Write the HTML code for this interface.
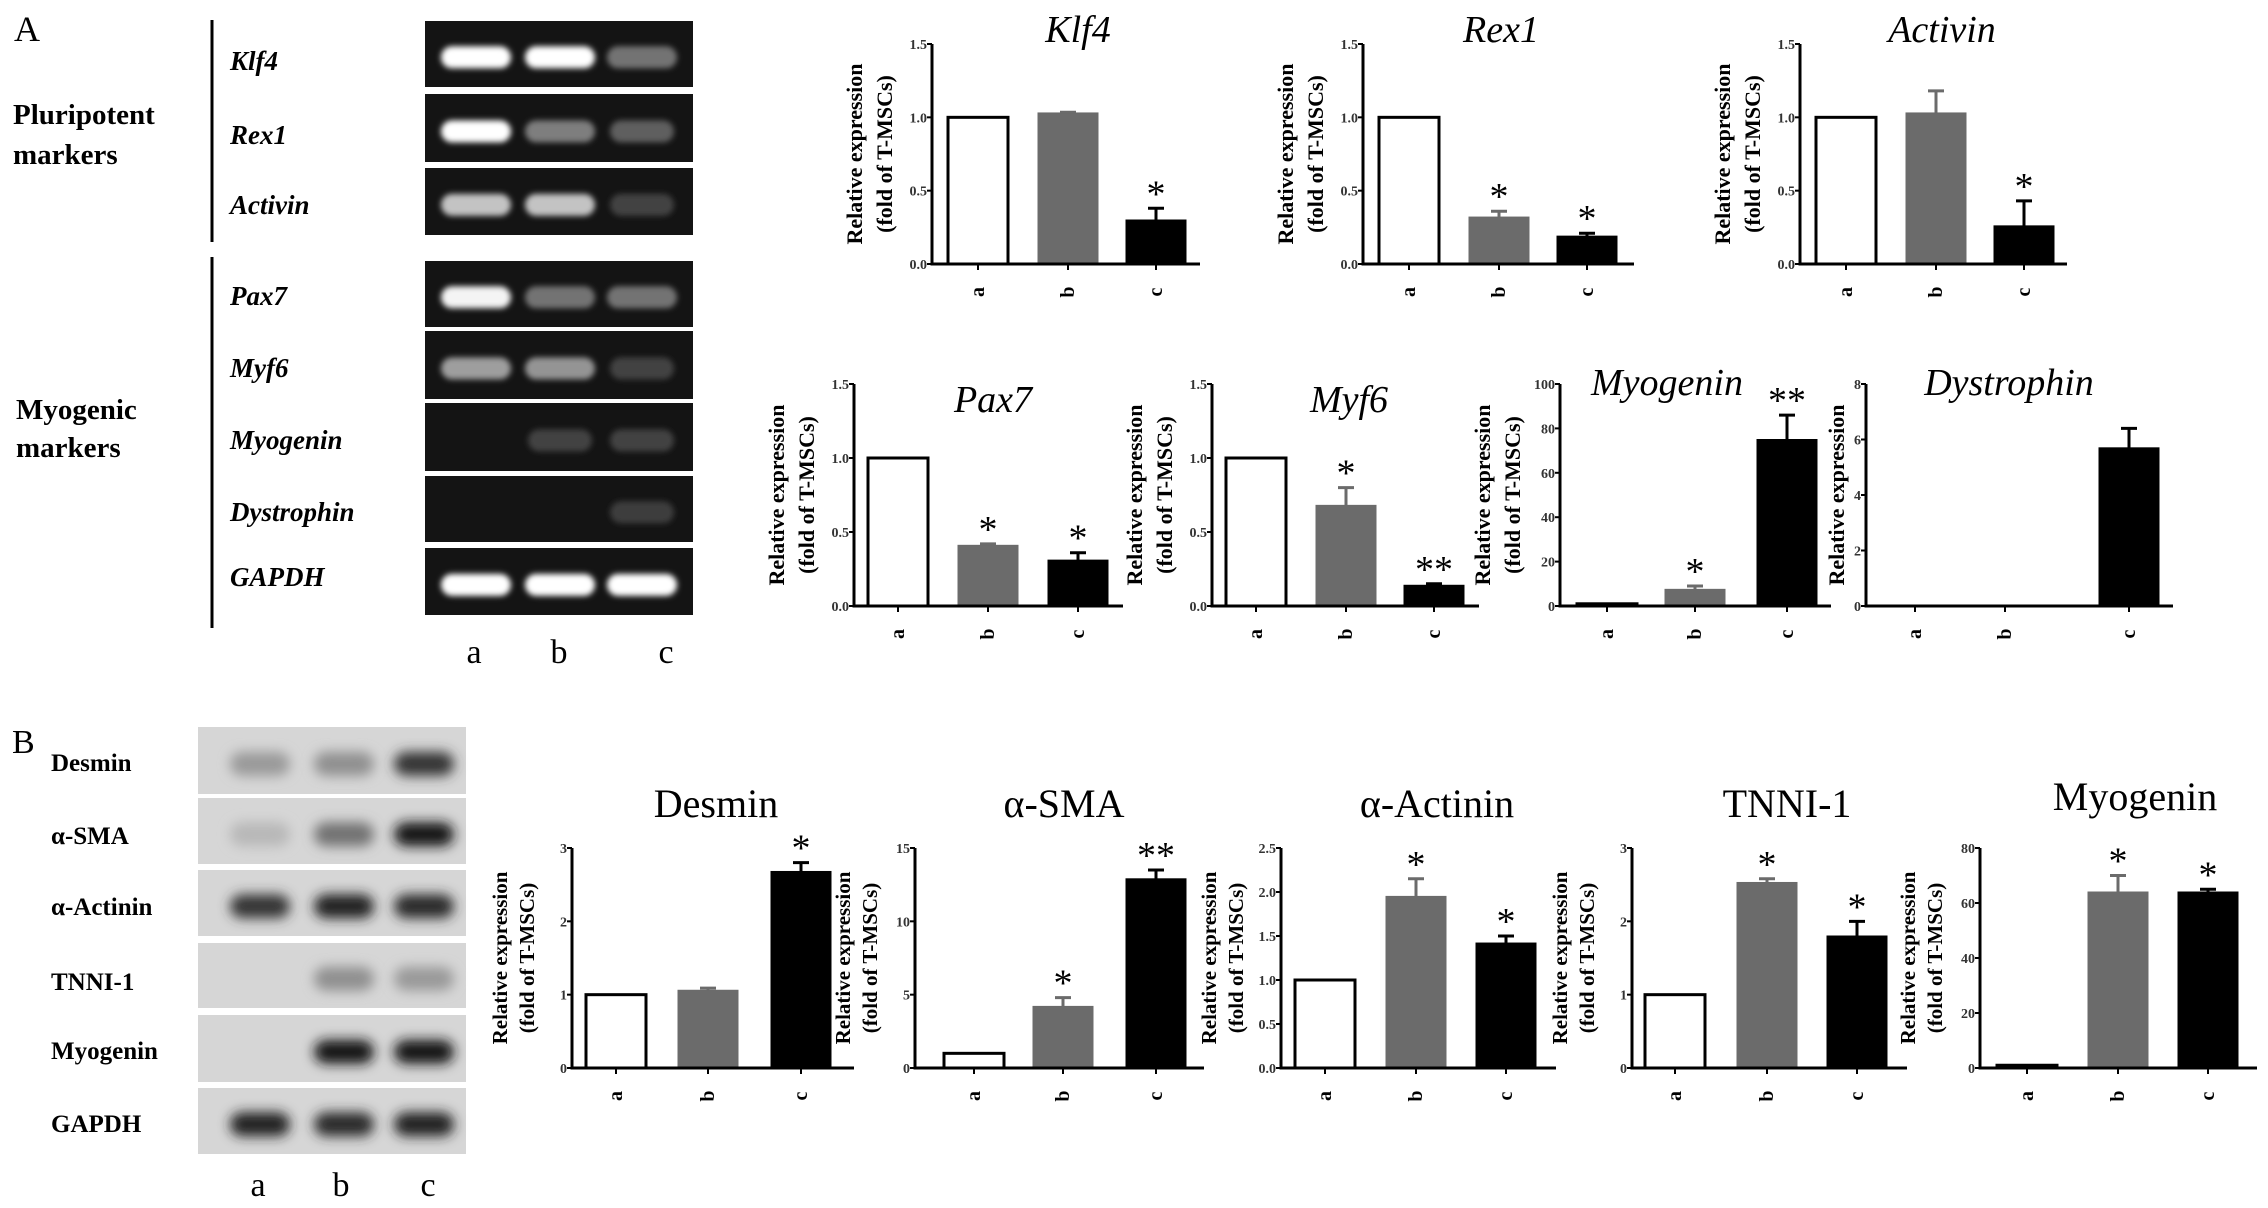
<!DOCTYPE html>
<html><head><meta charset="utf-8"><style>
html,body{margin:0;padding:0;background:#fff}
svg{display:block}
text{font-family:"Liberation Serif",serif}
</style></head><body>
<svg id="fig" xmlns="http://www.w3.org/2000/svg" width="2268" height="1208" viewBox="0 0 2268 1208">
<defs>
<filter id="blurA" x="-50%" y="-100%" width="200%" height="300%"><feGaussianBlur stdDeviation="3"/></filter>
<filter id="blurB" x="-50%" y="-100%" width="200%" height="300%"><feGaussianBlur stdDeviation="6"/></filter>
</defs>
<g id="panelA">
<text x="14" y="41" font-size="36">A</text>
<line x1="212" y1="20" x2="212" y2="242" stroke="#000" stroke-width="3"/>
<line x1="212" y1="257" x2="212" y2="628" stroke="#000" stroke-width="3"/>
<text x="13" y="124" font-size="29" font-weight="bold">Pluripotent</text>
<text x="13" y="164" font-size="29" font-weight="bold">markers</text>
<text x="16" y="419" font-size="29" font-weight="bold">Myogenic</text>
<text x="16" y="457" font-size="29" font-weight="bold">markers</text>
<g id="gelA"></g>
<text x="474" y="663" font-size="34" text-anchor="middle">a</text>
<text x="559" y="663" font-size="34" text-anchor="middle">b</text>
<text x="666" y="663" font-size="34" text-anchor="middle">c</text>
</g>
<g id="panelB">
<text x="12" y="753" font-size="34">B</text>
<g id="blotB"></g>
<text x="258" y="1196" font-size="34" text-anchor="middle">a</text>
<text x="341" y="1196" font-size="34" text-anchor="middle">b</text>
<text x="428" y="1196" font-size="34" text-anchor="middle">c</text>
</g>
<g id="charts"></g>
</svg>
<script>
// ---- chart data ----
const categories = ['a','b','c'];
const klf4Values = [1, 1.03, 0.30];      const klf4Err = [0, 0.005, 0.08];   const klf4Stars = ['', '', '*'];
const rex1Values = [1, 0.32, 0.19];      const rex1Err = [0, 0.04, 0.02];    const rex1Stars = ['', '*', '*'];
const activinValues = [1, 1.03, 0.26];   const activinErr = [0, 0.15, 0.17]; const activinStars = ['', '', '*'];
const pax7Values = [1, 0.41, 0.31];      const pax7Err = [0, 0.01, 0.05];    const pax7Stars = ['', '*', '*'];
const myf6Values = [1, 0.68, 0.14];      const myf6Err = [0, 0.12, 0.01];    const myf6Stars = ['', '*', '**'];
const myogeninAValues = [1, 7.5, 75];    const myogeninAErr = [0, 1.5, 11];  const myogeninAStars = ['', '*', '**'];
const dystrophinValues = [0, 0, 5.7];    const dystrophinErr = [0, 0, 0.7];  const dystrophinStars = ['', '', ''];
const desminValues = [1, 1.06, 2.68];    const desminErr = [0, 0.03, 0.12];  const desminStars = ['', '', '*'];
const smaValues = [1, 4.2, 12.9];        const smaErr = [0, 0.6, 0.6];       const smaStars = ['', '*', '**'];
const actininValues = [1, 1.95, 1.42];   const actininErr = [0, 0.2, 0.08];  const actininStars = ['', '*', '*'];
const tnniValues = [1, 2.53, 1.8];       const tnniErr = [0, 0.05, 0.2];     const tnniStars = ['', '*', '*'];
const myogeninBValues = [1, 64, 64];     const myogeninBErr = [0, 6, 1];     const myogeninBStars = ['', '*', '*'];
const ticks15 = ['0.0','0.5','1.0','1.5'];
const ticks100 = ['0','20','40','60','80','100'];
const ticks8 = ['0','2','4','6','8'];
const ticks3 = ['0','1','2','3'];
const ticks15i = ['0','5','10','15'];
const ticks25 = ['0.0','0.5','1.0','1.5','2.0','2.5'];
const ticks80 = ['0','20','40','60','80'];
// gel band intensities
const gelRowsA = ['Klf4','Rex1','Activin','Pax7','Myf6','Myogenin','Dystrophin','GAPDH'];
const gelIntA = [[1,1,0.35],[1,0.4,0.25],[0.72,0.72,0.12],[0.95,0.35,0.35],[0.55,0.5,0.12],[0,0.12,0.12],[0,0,0.1],[1,1,1]];
const blotRowsB = ['Desmin','α-SMA','α-Actinin','TNNI-1','Myogenin','GAPDH'];
const blotIntB = [[0.3,0.35,0.8],[0.15,0.5,0.95],[0.8,0.9,0.85],[0,0.35,0.3],[0,0.95,0.95],[0.9,0.85,0.9]];

const NS='http://www.w3.org/2000/svg';
function mk(tag, attrs, parent){const e=document.createElementNS(NS,tag);for(const k in attrs)e.setAttribute(k,attrs[k]);parent.appendChild(e);return e;}

// ---- gel A ----
const gelA=document.getElementById('gelA');
const gelTopsA=[21,94,168,261,331,403,476,548], gelBotA=[87,162,235,327,399,471,542,615];
const gelLabelY=[70,144,214,305,377,449,521,586];
const laneXA=[476,560,642];
gelRowsA.forEach((name,r)=>{
  const rr=mk('rect',{x:425,y:gelTopsA[r],width:268,height:gelBotA[r]-gelTopsA[r],fill:'#141414'},gelA);
  
  
  const t=mk('text',{x:230,y:gelLabelY[r],'font-size':27,'font-style':'italic','font-weight':'bold'},gelA);
  t.textContent=name;
  
  
  gelIntA[r].forEach((v,i)=>{
    if(v<=0)return;
    const cy=gelTopsA[r]+(gelBotA[r]-gelTopsA[r])*0.55;
    const c=Math.round(40+215*v);
    const w=v>0.3?70:64;
    const b=mk('rect',{x:laneXA[i]-w/2,y:cy-11,width:w,height:22,rx:11,fill:`rgb(${c},${c},${c})`,filter:'url(#blurA)'},gelA);
    
    
  });
});

// ---- blot B ----
const blotB=document.getElementById('blotB');
const blotTop=[727,798,870,943,1015,1088], blotBot=[794,864,936,1008,1082,1154];
const blotLabelY=[771,844,915,990,1059,1132];
const laneXB=[260,344,424];
blotRowsB.forEach((name,r)=>{
  const rr=mk('rect',{x:198,y:blotTop[r],width:268,height:blotBot[r]-blotTop[r],fill:'#d6d6d6'},blotB);
  
  
  const t=mk('text',{x:51,y:blotLabelY[r],'font-size':25,'font-weight':'bold'},blotB);
  t.textContent=name;
  
  
  blotIntB[r].forEach((v,i)=>{
    if(v<=0)return;
    const cy=blotTop[r]+(blotBot[r]-blotTop[r])*0.55;
    const c=Math.round(214-200*v);
    const b=mk('rect',{x:laneXB[i]-30,y:cy-12,width:60,height:24,rx:12,fill:`rgb(${c},${c},${c})`,filter:'url(#blurB)'},blotB);
    
    
  });
});

// ---- charts ----
const charts=document.getElementById('charts');
const fills=['#fff','#6b6b6b','#000'];
function chart(o){
  const g=mk('g',{},charts);
  
  
  const ymax=o.ymax, top=o.top, base=o.base;
  const y=v=>base-(v/ymax)*(base-top);
  const bx=i=>o.ax+o.off[i];
  // title
  const t=mk('text',{x:o.tx,y:o.ty,'font-size':o.tfs,'text-anchor':'middle','font-style':o.italic?'italic':'normal'},g);
  t.textContent=o.title;
  
  
  // y title
  const cy=(top+base)/2;
  const lines=o.singleTitle?[['Relative expression',o.ax-22]]:[['Relative expression',o.ax-o.yt1],['(fold of T-MSCs)',o.ax-o.yt2]];
  lines.forEach(p=>{
    const yt=mk('text',{x:p[1],y:cy,'font-size':o.yfs,'font-weight':'bold','text-anchor':'middle',transform:`rotate(-90 ${p[1]} ${cy})`},g);
    yt.textContent=p[0];
    
    
  });
  // bars
  o.vals.forEach((v,i)=>{
    const r=mk('rect',{x:bx(i),y:y(v),width:o.bw,height:base-y(v),fill:fills[i],stroke:i==1?'#6b6b6b':'#000','stroke-width':i==0?3:1},g);
    
    
    const cx=bx(i)+o.bw/2;
    let yTop=y(v);
    if(o.err[i]>0){
      const ye=y(v+o.err[i]);
      const l=mk('path',{d:`M${cx} ${yTop}V${ye}M${cx-8} ${ye}H${cx+8}`,stroke:i==1?'#6b6b6b':'#000','stroke-width':3,fill:'none'},g);
      
      
      yTop=ye;
    }
    if(o.stars[i]){
      const s=mk('text',{x:cx,y:yTop-2,'font-size':38,'text-anchor':'middle','font-family':'Liberation Sans'},g);
      s.textContent=o.stars[i];
      
      
    }
    // x tick + label
    const tk=mk('line',{x1:cx,y1:base,x2:cx,y2:base+6,stroke:'#000','stroke-width':2},g);
    
    
    const lx=cx+6, ly=base+28;
    const xl=mk('text',{x:lx,y:ly,'font-size':20,'font-weight':'bold','font-family':'Liberation Sans','text-anchor':'middle',transform:`rotate(-90 ${lx} ${ly})`},g);
    xl.textContent=categories[i];
    
    
  });
  // axes
  const ax=mk('path',{d:`M${o.ax} ${top}V${base}H${o.xend}`,stroke:'#000','stroke-width':3,fill:'none'},g);
  
  
  o.ticks.forEach(tl=>{
    const yy=y(parseFloat(tl));
    const tm=mk('line',{x1:o.ax-5,y1:yy,x2:o.ax,y2:yy,stroke:'#000','stroke-width':2},g);
    
    
    const tt=mk('text',{x:o.ax-5,y:yy+5,'font-size':14,'font-weight':'bold','font-family':'Liberation Sans','text-anchor':'end',fill:'#333'},g);
    tt.textContent=tl;
    
    
  });
}
const offA=[16,106,194], bwA=60;
const rowA1={top:44,base:264,bw:bwA,tfs:38,italic:true,ty:42,yt1:70,yt2:40,yfs:22};
const rowA2={top:384,base:606,bw:bwA,tfs:38,italic:true,ty:412,yt1:70,yt2:40,yfs:22};
chart(Object.assign({},rowA1,{id:'klf4',title:'Klf4',ax:932,xend:1200,off:offA,tx:1078,ymax:1.5,ticks:ticks15,vals:klf4Values,err:klf4Err,stars:klf4Stars}));
chart(Object.assign({},rowA1,{id:'rex1',title:'Rex1',ax:1363,xend:1634,off:offA,tx:1501,ymax:1.5,ticks:ticks15,vals:rex1Values,err:rex1Err,stars:rex1Stars}));
chart(Object.assign({},rowA1,{id:'activin',title:'Activin',ax:1800,xend:2067,off:offA,tx:1942,ymax:1.5,ticks:ticks15,vals:activinValues,err:activinErr,stars:activinStars}));
chart(Object.assign({},rowA2,{id:'pax7',title:'Pax7',ax:854,xend:1123,off:[14,104,194],tx:993,ymax:1.5,ticks:ticks15,vals:pax7Values,err:pax7Err,stars:pax7Stars}));
chart(Object.assign({},rowA2,{id:'myf6',title:'Myf6',ax:1212,xend:1479,off:[14,104,192],tx:1349,ymax:1.5,ticks:ticks15,vals:myf6Values,err:myf6Err,stars:myf6Stars}));
chart(Object.assign({},rowA2,{id:'myogenin-a',title:'Myogenin',ax:1560,xend:1831,off:[17,105,197],tx:1667,ty:395,ymax:100,ticks:ticks100,vals:myogeninAValues,err:myogeninAErr,stars:myogeninAStars}));
chart(Object.assign({},rowA2,{id:'dystrophin',title:'Dystrophin',ax:1866,xend:2173,off:[19,109,233],tx:2009,ty:395,ymax:8,ticks:ticks8,singleTitle:true,vals:dystrophinValues,err:dystrophinErr,stars:dystrophinStars}));
const rowB={top:848,base:1068,bw:60,tfs:40,italic:false,ty:817,yt1:65,yt2:38,yfs:21};
chart(Object.assign({},rowB,{id:'desmin',title:'Desmin',ax:572,xend:854,off:[14,106,199],tx:716,ymax:3,ticks:ticks3,vals:desminValues,err:desminErr,stars:desminStars}));
chart(Object.assign({},rowB,{id:'sma',title:'α-SMA',ax:915,xend:1204,off:[29,118,211],tx:1064,ymax:15,ticks:ticks15i,vals:smaValues,err:smaErr,stars:smaStars}));
chart(Object.assign({},rowB,{id:'actinin',title:'α-Actinin',ax:1281,xend:1556,off:[14,105,195],tx:1437,ymax:2.5,ticks:ticks25,vals:actininValues,err:actininErr,stars:actininStars}));
chart(Object.assign({},rowB,{id:'tnni1',title:'TNNI-1',ax:1632,xend:1907,off:[13,105,195],tx:1787,ymax:3,ticks:ticks3,vals:tnniValues,err:tnniErr,stars:tnniStars}));
chart(Object.assign({},rowB,{id:'myogenin-b',title:'Myogenin',ax:1980,xend:2257,off:[17,108,198],tx:2135,ty:810,ymax:80,ticks:ticks80,vals:myogeninBValues,err:myogeninBErr,stars:myogeninBStars}));
</script>
</body></html>
